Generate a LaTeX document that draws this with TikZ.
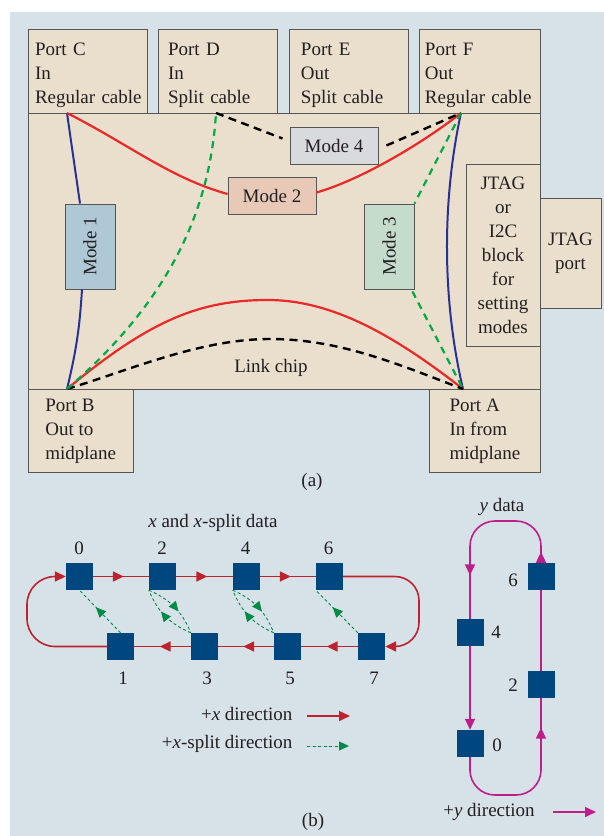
\documentclass[tikz,border=0pt]{standalone}
\usepackage{fontspec}
\setmainfont{Liberation Serif}
\usepackage{graphicx}
\usetikzlibrary{arrows.meta,decorations.markings,calc}
\definecolor{bgc}{RGB}{215,225,232}
\definecolor{tanc}{RGB}{234,223,205}
\definecolor{linec}{RGB}{85,85,85}
\definecolor{txtc}{RGB}{35,31,32}
\definecolor{mone}{RGB}{175,200,214}
\definecolor{mtwo}{RGB}{232,200,182}
\definecolor{mthree}{RGB}{197,220,204}
\definecolor{mfour}{RGB}{217,218,222}
\definecolor{reda}{RGB}{235,40,40}
\definecolor{redb}{RGB}{190,35,45}
\definecolor{bluea}{RGB}{40,50,150}
\definecolor{greena}{RGB}{0,170,70}
\definecolor{greenb}{RGB}{0,140,70}
\definecolor{magc}{RGB}{190,30,140}
\definecolor{sqc}{RGB}{0,70,127}
\newcommand{\topstrut}{\rule{0pt}{20pt}}
\begin{document}
\begin{tikzpicture}[x=1pt,y=-1pt,font=\fontsize{19}{24}\selectfont,text=txtc,
  box/.style={draw=linec,fill=tanc,line width=0.9pt,inner sep=0pt},
  portbox/.style={box,anchor=north west,minimum height=84pt,align=left},
  modebox/.style={box,minimum width=88pt,minimum height=37pt},
  vmodebox/.style={box,minimum width=50pt,minimum height=85pt},
  redl/.style={draw=reda,line width=2.2pt},
  bluel/.style={draw=bluea,line width=2pt},
  blackd/.style={draw=black,line width=2.4pt,dash pattern=on 8pt off 5.5pt},
  greend/.style={draw=greena,line width=2.2pt,dash pattern=on 7pt off 5.5pt},
  sq/.style={fill=sqc,minimum size=27pt,inner sep=0pt},
  redx/.style={draw=redb,line width=1.6pt},
  greenx/.style={draw=greenb,line width=0.9pt,dash pattern=on 3pt off 2.5pt},
  magl/.style={draw=magc,line width=1.6pt},
  rtip/.style={-{Triangle[length=11pt,width=10pt]}},
  rmid/.style={postaction={decorate},decoration={markings,mark=at position #1 with {\arrow{Triangle[length=11pt,width=10pt]}}}},
  gmid/.style={postaction={decorate},decoration={markings,mark=at position #1 with {\arrow[fill=greenb]{Triangle[length=10pt,width=9pt]}}}},
  ]
\useasboundingbox (0,0) rectangle (604,836);
\fill[bgc] (10,12) rectangle (604,836);

% ---------------- (a) ----------------
\node[box,minimum width=512pt,minimum height=276pt] (chip) at (284,251) {};
\node[portbox,text width=105.5pt,inner xsep=6.6pt] (portC) at (28,29) {\topstrut\mbox{Port C}\\\mbox{In}\\\mbox{Regular cable}};
\node[portbox,text width=100.4pt,inner xsep=9.3pt] (portD) at (158.3,29) {\topstrut\mbox{Port D}\\\mbox{In}\\\mbox{Split cable}};
\node[portbox,text width=95pt,inner xsep=12pt] (portE) at (288.5,29) {\topstrut\mbox{Port E}\\\mbox{Out}\\\mbox{Split cable}};
\node[portbox,text width=109.7pt,inner xsep=5.8pt] (portF) at (418.7,29) {\topstrut\mbox{Port F}\\\mbox{Out}\\\mbox{Regular cable}};
\node[box,anchor=north west,minimum width=104.5pt,minimum height=83pt,align=left] (portB) at (28,389) {Port B\\Out to\\midplane};
\node[box,anchor=north west,minimum width=111pt,minimum height=83pt,align=left] (portA) at (429,389) {Port A\\In from\\midplane};
\node[box,minimum width=74pt,minimum height=182pt,align=center] (jblk) at (503,255) {JTAG\\or\\I2C\\block\\for\\setting\\modes};
\node[box,minimum width=61pt,minimum height=110pt,align=center] (jport) at (570.5,253) {JTAG\\port};
\node (lc) at (271,368) {Link chip};
\node (la) at (312,482) {(a)};

\node[vmodebox,fill=mone] (m1) at (90,246.5) {\rotatebox{90}{Mode 1}};
\node[vmodebox,fill=mthree] (m3) at (389,246.5) {\rotatebox{90}{Mode 3}};
\node[modebox,fill=mtwo] (m2) at (272,195.5) {Mode 2};
\node[modebox,fill=mfour] (m4) at (334,145.5) {Mode 4};

\coordinate (pc) at (67,113);
\coordinate (pd) at (216,113);
\coordinate (pf) at (461,113);
\coordinate (pb) at (67,389);
\coordinate (pa) at (463,389);

% blue (mode 1 and right)
\draw[bluel] (pc) -- ($(m1.north)+(-10,0)$);
\draw[bluel] ($(m1.south)+(-8,0)$) to[bend left=5] (pb);
\draw[bluel] (pf) .. controls (442,200) and (442,300) .. (pa);
% red (mode 2)
\draw[redl] (pc) .. controls (130,145) and (170,178) .. ($(m2.west)+(0,-1.5)$);
\draw[redl] ($(m2.east)+(0,-3)$) .. controls (360,180) and (420,145) .. (pf);
\draw[redl] (pb) .. controls (150,320) and (200,300) .. (268,300) .. controls (336,300) and (400,340) .. (pa);
% black (mode 4)
\draw[blackd] (pd) -- ($(m4.west)+(-7,-7)$);
\draw[blackd] ($(m4.east)+(8,0)$) -- (pf);
\draw[blackd] (pb) .. controls (130,370) and (200,339) .. (270,339) .. controls (340,339) and (400,365) .. (pa);
% green (mode 3)
\draw[greend] (pb) .. controls (170,300) and (210,210) .. (pd);
\draw[greend] (pf) -- (m3.north east);
\draw[greend] ($(m3.south east)+(-2,2)$) -- (pa);

% ---------------- (b) ----------------
\node (xt) at (213,523) {\textit{x} and \textit{x}-split data};
\node[sq] (x0) at (79.5,576.5) {};
\node[sq] (x2) at (162.5,576.5) {};
\node[sq] (x4) at (246.5,576.5) {};
\node[sq] (x6) at (329.5,576.5) {};
\node[sq] (x1) at (120.5,646.5) {};
\node[sq] (x3) at (204.5,646.5) {};
\node[sq] (x5) at (287.5,646.5) {};
\node[sq] (x7) at (371.5,646.5) {};
\node (lx0) at (79,548) {0};
\node (lx2) at (162,548) {2};
\node (lx4) at (245.5,548) {4};
\node (lx6) at (328.5,548) {6};
\node (lx1) at (123,678) {1};
\node (lx3) at (207,678) {3};
\node (lx5) at (290,678) {5};
\node (lx7) at (374,678) {7};

\draw[redx,rmid=0.55] (x0) -- (x2);
\draw[redx,rmid=0.55] (x2) -- (x4);
\draw[redx,rmid=0.55] (x4) -- (x6);
\draw[redx,rmid=0.55] (x7) -- (x5);
\draw[redx,rmid=0.55] (x5) -- (x3);
\draw[redx,rmid=0.55] (x3) -- (x1);
\draw[redx,rtip,rounded corners=24pt] (x6) -- (419,576.5) -- (419,646.5) -- (x7);
\draw[redx,rtip,rounded corners=28pt] (x1) -- (27,646.5) -- (27,576.5) -- (x0);

\draw[greenx,gmid=0.6] (x1.north) -- (x0.south);
\draw[greenx,gmid=0.6] (x2.south west) to[bend left=22] (x3.north west);
\draw[greenx,gmid=0.6] (x3.north west) to[bend left=22] (x2.south west);
\draw[greenx,gmid=0.6] (x4.south west) to[bend left=22] (x5.north west);
\draw[greenx,gmid=0.6] (x5.north west) to[bend left=22] (x4.south west);
\draw[greenx,gmid=0.6] (x7.north west) -- (x6.south west);

\node[anchor=east] (lgx) at (296,714) {+\textit{x} direction};
\node[anchor=east] (lgs) at (296,744) {+\textit{x}-split direction};
\coordinate (lxa) at (307,716);
\coordinate (lxb) at (350,716);
\coordinate (lsa) at (307,746);
\coordinate (lsb) at (349,746);
\draw[redx,rtip] (lxa) -- (lxb);
\draw[greenx,-{Triangle[length=10pt,width=9pt]},fill=greenb] (lsa) -- (lsb);
\node (lb) at (313,822) {(b)};

% y ring
\node (yt) at (502,507) {\textit{y} data};
\node[sq] (y6) at (541,576.5) {};
\node[sq] (y4) at (470,632.5) {};
\node[sq] (y2) at (541,684.5) {};
\node[sq] (y0) at (470,743.5) {};
\node (ly6) at (513,580) {6};
\node (ly4) at (496,632) {4};
\node (ly2) at (513,685) {2};
\node (ly0) at (497,745) {0};
\draw[magl,rounded corners=25pt,postaction={decorate},decoration={markings,
   mark=at position 0.058 with {\arrow[fill=magc]{Triangle[length=11pt,width=10pt]}},
   mark=at position 0.77 with {\arrow[fill=magc]{Triangle[length=11pt,width=10pt]}}}]
   (y6) -- (541,521) -- (470,521) -- (y4);
\draw[magl,rtip] (y4) -- (y0);
\draw[magl,rounded corners=25pt,postaction={decorate},decoration={markings,
   mark=at position 0.84 with {\arrow[fill=magc]{Triangle[length=11pt,width=10pt]}}}]
   (y0) -- (470,795) -- (541,795) -- (y2);
\draw[magl] (y2) -- (y6);
\node (lgy) at (489,812) {+\textit{y} direction};
\coordinate (lya) at (553,812);
\coordinate (lyb) at (596,812);
\draw[magl,rtip] (lya) -- (lyb);
\end{tikzpicture}
\end{document}
